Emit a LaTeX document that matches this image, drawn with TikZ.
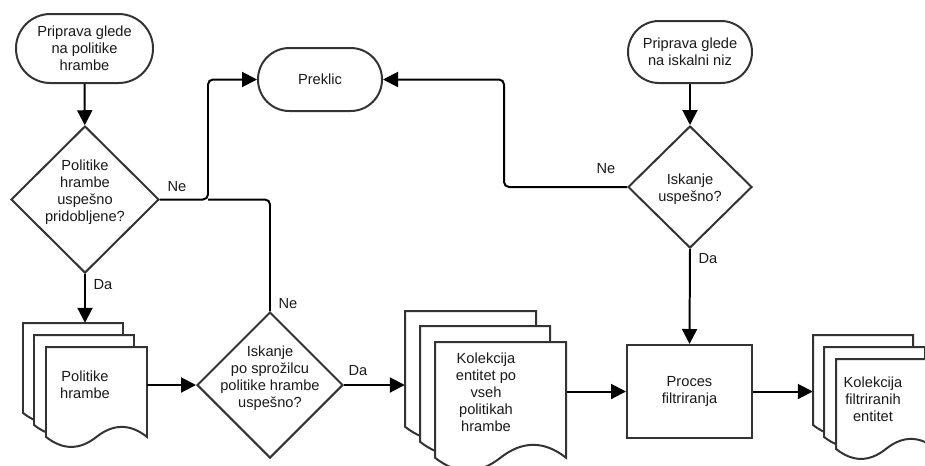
\documentclass[tikz,border=0pt]{standalone}
\usepackage{fontspec}
\setmainfont{Liberation Sans}
\usetikzlibrary{calc, shapes.geometric, arrows.meta}

\definecolor{linegray}{HTML}{333333}
\definecolor{txtgray}{HTML}{1A1A1A}

\newcommand{\px}{0.03cm}
% one page of a stack: top left x, top left y, width, height
\newcommand{\docpage}[4]{%
    \pgfmathsetmacro{\pagedy}{0.22 * #4}
    \draw[page] (#1, #2) -- ({#1 + #3}, #2) -- ({#1 + #3}, {#2 + #4 - 0.5 * \pagedy})
        .. controls ({#1 + 5 * #3 / 6}, {#2 + #4 - 1.1 * \pagedy}) and ({#1 + 2 * #3 / 3}, {#2 + #4 - 1.1 * \pagedy}) .. ({#1 + #3 / 2}, {#2 + #4 - 0.5 * \pagedy})
        .. controls ({#1 + #3 / 3}, {#2 + #4 + 0.1 * \pagedy}) and ({#1 + #3 / 6}, {#2 + #4 + 0.1 * \pagedy}) .. (#1, {#2 + #4 - 0.5 * \pagedy}) -- cycle;%
}

\begin{document}
\begin{tikzpicture}[x = 0.03cm, y = -0.03cm,
        every node/.style = {font = \fontsize{12.5}{14.5}\selectfont, text = txtgray, align = center},
        page/.style = {draw = linegray, line width = 1.7pt, fill = white},
        terminal/.style = {draw = linegray, line width = 1.7pt, fill = white, rectangle, inner sep = 0pt},
        decision/.style = {draw = linegray, line width = 1.7pt, fill = white, diamond, inner sep = 0pt},
        process/.style = {draw = linegray, line width = 1.7pt, fill = white, rectangle, inner sep = 0pt},
        flow/.style = {black, line width = 1.7pt, rounded corners = 0.15cm, -{Triangle[length = 4.5mm, width = 4.5mm]}},
        branch/.style = {black, line width = 1.7pt, rounded corners = 0.15cm}]

    \useasboundingbox (0, 0) rectangle (925, 465);

    % stacks of documents
    \docpage{23}{323}{100}{101}
    \docpage{34}{335}{100}{101}
    \docpage{46}{347}{101}{101}

    \docpage{405}{311}{131}{130}
    \docpage{420}{326}{130}{130}
    \docpage{435}{342}{131}{130}

    \docpage{813}{335}{100}{101}
    \docpage{824}{347}{101}{101}
    \docpage{836}{359}{100}{101}

    \node[minimum width = 124 * \px, minimum height = 124 * \px, inner sep = 0pt] (pol) at (85, 385) {Politike\\hrambe};
    \node[minimum width = 162 * \px, inner sep = 0pt] (kol) at (486, 392) {Kolekcija\\entitet po\\vseh\\politikah\\hrambe};
    \node[minimum width = 120 * \px, inner sep = 0pt] (fil) at (873, 399) {Kolekcija\\filtriranih\\entitet};

    % terminals
    \node[terminal, minimum width = 137 * \px, minimum height = 69 * \px, rounded corners = 1.03cm] (prip_pol) at (84.5, 48.5) {Priprava glede\\na politike\\hrambe};
    \node[terminal, minimum width = 124 * \px, minimum height = 63 * \px, rounded corners = 0.94cm] (preklic) at (320, 79.5) {Preklic};
    \node[terminal, minimum width = 124 * \px, minimum height = 62 * \px, rounded corners = 0.93cm] (prip_niz) at (690, 52) {Priprava glede\\na iskalni niz};

    % decisions
    \node[decision, minimum width = 148 * \px, minimum height = 147 * \px] (dec_pol) at (85, 199.5) {};
    \node (dec_pol_txt) at (85, 192) {Politike\\hrambe\\uspešno\\pridobljene?};
    \node[decision, minimum width = 146 * \px, minimum height = 146 * \px] (dec_spr) at (270, 385) {};
    \node (dec_spr_txt) at (270, 378) {Iskanje\\po sprožilcu\\politike hrambe\\uspešno?};
    \node[decision, minimum width = 124 * \px, minimum height = 122 * \px] (dec_niz) at (690, 187) {};
    \node (dec_niz_txt) at (690, 189) {Iskanje\\uspešno?};

    \node[process, minimum width = 125 * \px, minimum height = 93 * \px] (proc) at (689.5, 391.5) {Proces\\filtriranja};

    \coordinate (join_ne) at (208, 199.5);
    \coordinate (bend_ne) at (504, 187);

    % connectors
    \draw[flow] (prip_pol) -- (dec_pol);
    \draw[flow] (dec_pol.south) -- (pol.north);
    \draw[flow] (pol.east) -- (dec_spr.west);
    \draw[flow] (dec_spr.east) -- (dec_spr.east -| kol.west);
    \draw[flow] (kol.east |- proc.west) -- (proc.west);
    \draw[flow] (proc.east) -- (proc.east -| fil.west);
    \draw[flow] (dec_pol.east) -- (join_ne) |- (preklic.west);
    \draw[branch] (dec_spr.north) |- (join_ne);
    \draw[flow] (prip_niz) -- (dec_niz);
    \draw[flow] (dec_niz.west) -- (bend_ne) |- (preklic.east);
    \draw[flow] (dec_niz.south) -- (proc.north);

    % labels
    \node (ne_pol) at (177, 187) {Ne};
    \node (da_pol) at (103, 285) {Da};
    \node (ne_spr) at (288, 304) {Ne};
    \node (da_spr) at (358, 371) {Da};
    \node (ne_niz) at (606, 169) {Ne};
    \node (da_niz) at (708, 259) {Da};
\end{tikzpicture}
\end{document}
